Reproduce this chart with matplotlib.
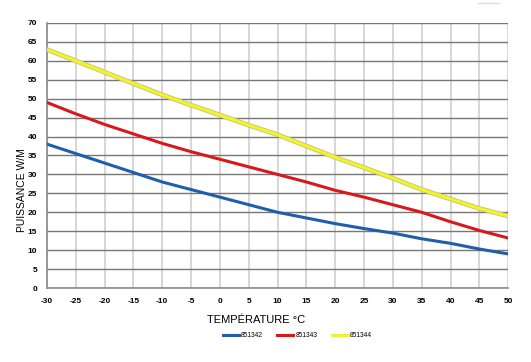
import matplotlib
matplotlib.use('Agg')
import matplotlib.pyplot as plt

plt.rcParams['axes.unicode_minus'] = False
plt.rcParams['font.family'] = ['Liberation Sans', 'DejaVu Sans']

# données
temperature = [-30, -25, -20, -15, -10, -5, 0, 5, 10, 15, 20, 25, 30, 35, 40, 45, 50]
p_851342 = [38, 35.5, 33, 30.5, 28, 26, 24, 22, 20, 18.5, 17, 15.7, 14.5, 13, 11.8, 10.3, 9]
p_851343 = [49, 46, 43.2, 40.7, 38.2, 36, 34, 32, 30, 28, 25.8, 24, 22, 20, 17.5, 15.2, 13.2]
p_851344 = [63, 60, 57, 54, 51, 48.3, 45.7, 43, 40.5, 37.5, 34.5, 31.8, 29, 26, 23.5, 21, 19]

x_ticks = list(range(-30, 51, 5))
y_ticks = list(range(0, 71, 5))

fig = plt.figure(figsize=(5.31, 3.62), dpi=100)
ax = fig.add_axes([0.0885, 0.2044, 0.8685, 0.7321])

for x in x_ticks:
    ax.axvline(x, color='#cccccc', linewidth=1.1, zorder=1)
for y in y_ticks:
    ax.axhline(y, color='#777777', linewidth=1.0, zorder=1)

l1, = ax.plot(temperature, p_851342, color='#1f5ea8', linewidth=2.2, zorder=3)
l2, = ax.plot(temperature, p_851343, color='#d7191c', linewidth=2.2, zorder=3)
ax.plot(temperature, p_851344, color='#c2c270', linewidth=3.4, zorder=3)
l3, = ax.plot(temperature, p_851344, color='#f2f230', linewidth=2.3, zorder=4)

ax.set_xlim(-30, 50)
ax.set_ylim(0, 70)
ax.set_xticks(x_ticks)
ax.set_yticks(y_ticks)
ax.tick_params(length=0, labelsize=6, pad=7)
for lab in ax.get_xticklabels() + ax.get_yticklabels():
    lab.set_fontweight('bold')
for side in ['top', 'right']:
    ax.spines[side].set_visible(False)
for side in ['left', 'bottom']:
    ax.spines[side].set_color('#8a8a8a')
    ax.spines[side].set_linewidth(1.2)

fig.text(0.042, 0.475, 'PUISSANCE W/M', rotation=90, ha='center', va='center',
         fontsize=7.5)
fig.text(0.39, 0.116, 'TEMPÉRATURE °C', ha='left', va='center', fontsize=8)

fig.legend([l1, l2, l3], ['851342', '851343', '851344'], loc='center',
           bbox_to_anchor=(0.56, 0.072), ncol=3, frameon=False, fontsize=4.8,
           handlelength=2.4, handletextpad=0.3, columnspacing=2.2)

# petit trait en haut à droite
fig.add_artist(plt.Line2D([0.9, 0.94], [0.992, 0.992], color='#dddddd', linewidth=1))

plt.savefig('out.png', dpi=100)
plt.close()
